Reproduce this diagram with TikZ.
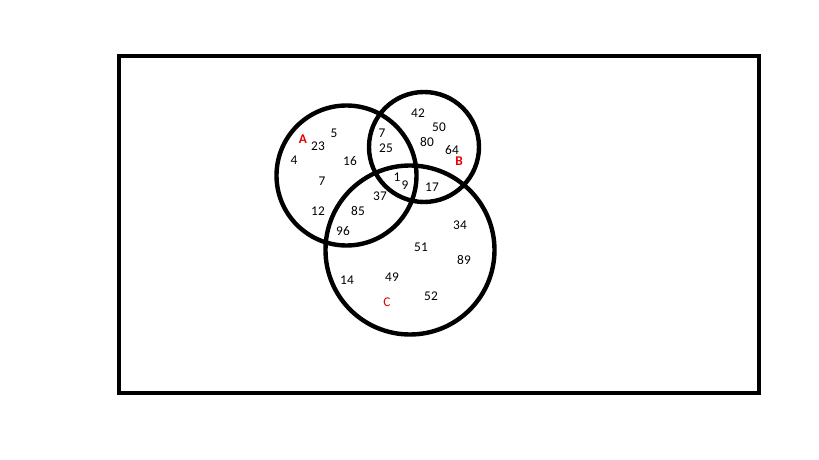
\documentclass[tikz,border=0pt]{standalone}
\usepackage{fontspec}
\setmainfont{Carlito}
\begin{document}
\begin{tikzpicture}[x=0.75pt,y=-0.75pt,
  num/.style={font=\fontsize{10}{12}\selectfont, text=black, inner sep=0pt},
  setlbl/.style={font=\fontsize{10}{12}\selectfont\bfseries, text=red!90!black, inner sep=0pt},
  thick line/.style={line width=3.3pt}]
\useasboundingbox (0,0) rectangle (819,460);
\draw[thick line] (119,56) rectangle (759,393);
\draw[thick line] (346.5,175.5) circle (70);
\draw[thick line] (424,147) circle (55);
\draw[thick line] (410,250) circle (84.5);
% set labels
\node[setlbl] (lA) at (303,139) {A};
\node[setlbl] (lB) at (459,161) {B};
\node[setlbl, font=\fontsize{10}{12}\selectfont] (lC) at (387,302) {C};
% only A
\node[num] (n23) at (318,146) {23};
\node[num] (n5) at (334,133) {5};
\node[num] (n4) at (294,160) {4};
\node[num] (n16) at (350,161) {16};
\node[num] (n7a) at (322,181) {7};
\node[num] (n12) at (318,211) {12};
% A and B
\node[num] (n7b) at (382,133) {7};
\node[num] (n25) at (386,148) {25};
% only B
\node[num] (n42) at (418,113) {42};
\node[num] (n50) at (439,127) {50};
\node[num] (n80) at (427,142) {80};
\node[num] (n64) at (452,150) {64};
% A, B and C
\node[num] (n1) at (397,177) {1};
\node[num] (n9) at (405,185) {9};
% B and C
\node[num] (n17) at (432,187) {17};
% A and C
\node[num] (n37) at (380,196) {37};
\node[num] (n85) at (358,211) {85};
\node[num] (n96) at (343,231) {96};
% only C
\node[num] (n34) at (460,225) {34};
\node[num] (n51) at (421,247) {51};
\node[num] (n89) at (464,260) {89};
\node[num] (n14) at (347,280) {14};
\node[num] (n49) at (392,277) {49};
\node[num] (n52) at (431,296) {52};
\end{tikzpicture}
\end{document}
